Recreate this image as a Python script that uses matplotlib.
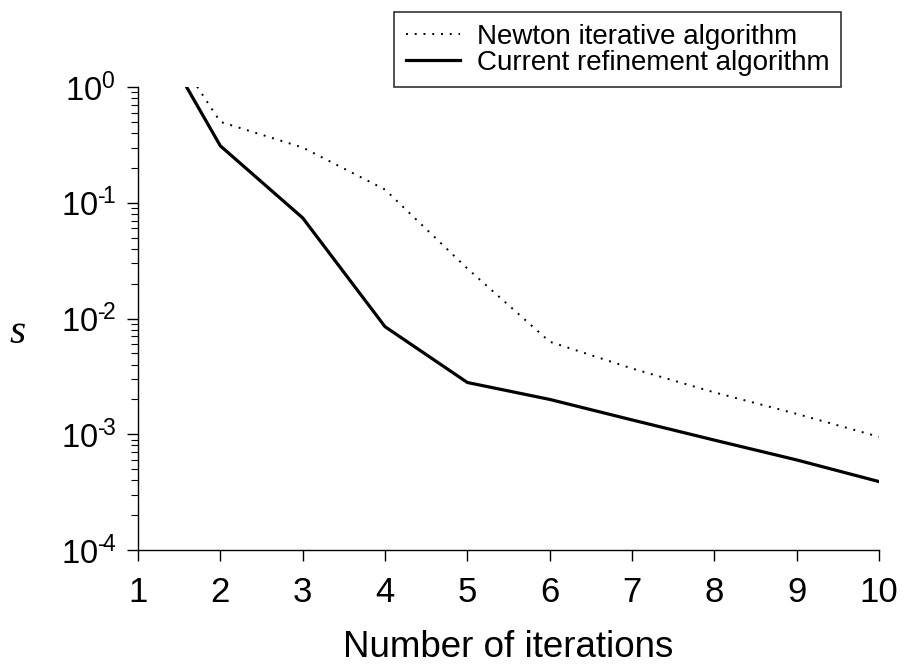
import numpy as np
import matplotlib
matplotlib.use("Agg")
import matplotlib.pyplot as plt
from matplotlib.ticker import LogLocator, NullFormatter

plt.rcParams['font.family'] = ['Liberation Sans', 'DejaVu Sans']
plt.rcParams['mathtext.fontset'] = 'custom'
plt.rcParams['mathtext.rm'] = 'Liberation Sans'
plt.rcParams['mathtext.it'] = 'Liberation Sans:italic'

# Data (values at x=1 lie above the top of the axis)
iterations = [1, 2, 3, 4, 5, 6, 7, 8, 9, 10]
newton_s = [6.0, 0.50, 0.30, 0.13, 0.027, 0.0063, 0.0037, 0.0023, 0.0015, 0.00095]
refine_s = [5.4, 0.31, 0.074, 0.0085, 0.0028, 0.0020, 0.00133, 0.00089, 0.0006, 0.00039]

labels = ['Newton iterative algorithm', 'Current refinement algorithm']
ytick_vals = [1e-4, 1e-3, 1e-2, 1e-1, 1e0]
ytick_text = ['$10^{\u2010\\!4}$', '$10^{\u2010\\!3}$', '$10^{\u2010\\!2}$',
              '$10^{\u2010\\!1}$', '$10^{0}$']

fig = plt.figure(figsize=(9.06, 6.68), dpi=100)
ax = fig.add_axes([0.1523, 0.1766, 0.818, 0.6932])

ax.plot(iterations, newton_s, color='black', linestyle=(0, (1, 3.5)),
        linewidth=1.4, label=labels[0])
ax.plot(iterations, refine_s, color='black', linestyle='-',
        linewidth=2.3, label=labels[1])

ax.set_yscale('log')
ax.set_xlim(1, 10)
ax.set_ylim(1e-4, 1)

ax.spines['top'].set_visible(False)
ax.spines['right'].set_visible(False)
ax.spines['left'].set_linewidth(1.0)
ax.spines['bottom'].set_linewidth(1.0)

ax.set_xticks(iterations)
ax.set_xticklabels([str(i) for i in iterations])
ax.set_yticks(ytick_vals)
ax.set_yticklabels(ytick_text)
ax.yaxis.set_minor_locator(LogLocator(base=10, subs=np.arange(2, 10)))
ax.yaxis.set_minor_formatter(NullFormatter())

ax.tick_params(axis='x', which='major', direction='out', length=8, width=1,
               labelsize=25, pad=11)
ax.tick_params(axis='y', which='major', direction='out', length=8, width=1,
               labelsize=23.5, pad=8)
ax.tick_params(axis='y', which='minor', direction='out', length=5, width=0.8)

ax.set_xlabel('Number of iterations', fontsize=26.5, labelpad=15)
ax.set_ylabel('s', fontsize=30, family='Liberation Serif', style='italic',
              rotation=0, va='center')
ax.yaxis.set_label_coords(-0.162, 0.47)

leg = fig.legend(loc='upper right', bbox_to_anchor=(841 / 906, 1 - 12 / 668),
                 fontsize=20, frameon=True, fancybox=False, borderpad=0.42,
                 labelspacing=0.0, handlelength=1.95, handletextpad=0.6,
                 borderaxespad=0)
leg.get_frame().set_edgecolor('black')
leg.get_frame().set_linewidth(1.2)

fig.savefig('out.png', dpi=100)
